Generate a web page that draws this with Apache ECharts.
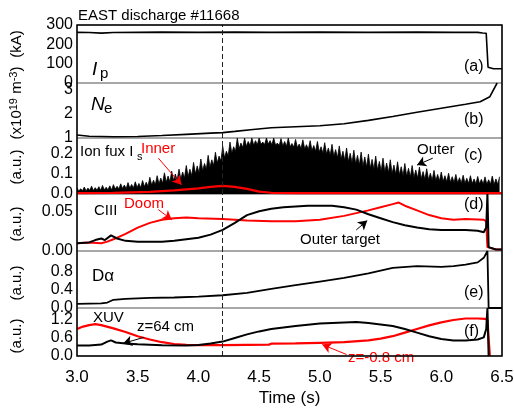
<!DOCTYPE html>
<html><head><meta charset="utf-8">
<script src="https://cdn.jsdelivr.net/npm/echarts@6/dist/echarts.min.js"></script>
<style>html,body{margin:0;padding:0;background:#fff}#c{width:514px;height:410px}</style>
</head><body><div id="c"></div>
<script>
// ---------- data ----------
const xTickLabels = ['3.0', '3.5', '4.0', '4.5', '5.0', '5.5', '6.0', '6.5'];
const yTickLabels = [
  ['0', '100', '200', '300'],
  ['1', '2', '3'],
  ['0.0', '0.1', '0.2'],
  ['0.00', '0.05'],
  ['0.0', '0.4', '0.8'],
  ['0.0', '0.6', '1.2']
];

const ipT = [3.00, 3.10, 3.20, 3.30, 3.50, 3.70, 4.00, 4.30, 4.60, 5.00, 5.40, 5.80, 6.10, 6.30, 6.34, 6.37, 6.385, 6.40, 6.43, 6.50];
const ipV = [262, 261, 258, 261, 262, 263, 262, 263, 262, 263, 262, 263, 262, 262, 259, 257, 82, 77, 74, 74];

const neT = [3.00, 3.10, 3.30, 3.50, 3.70, 3.90, 4.10, 4.20, 4.30, 4.45, 4.60, 4.80, 5.00, 5.20, 5.40, 5.60, 5.80, 6.00, 6.20, 6.32, 6.40, 6.46];
const neV = [1.12, 1.07, 1.05, 1.06, 1.10, 1.15, 1.20, 1.22, 1.27, 1.35, 1.42, 1.46, 1.50, 1.58, 1.72, 1.88, 2.05, 2.22, 2.38, 2.48, 2.69, 3.25];

// ion flux at the outer target: heights of the spikes and of the dense band between them
const outerPkT = [
  3.00,3.03,3.06,3.09,3.12,3.15,3.18,3.21,3.24,3.27,
  3.30,3.33,3.36,3.39,3.42,3.45,3.48,3.51,3.54,3.57,
  3.60,3.63,3.66,3.69,3.72,3.75,3.78,3.81,3.84,3.87,
  3.90,3.93,3.96,3.99,4.02,4.05,4.08,4.11,4.14,4.17,
  4.20,4.23,4.26,4.29,4.32,4.35,4.38,4.41,4.44,4.47,
  4.50,4.53,4.56,4.59,4.62,4.65,4.68,4.71,4.74,4.77,
  4.80,4.83,4.86,4.89,4.92,4.95,4.98,5.01,5.04,5.07,
  5.10,5.13,5.16,5.19,5.22,5.25,5.28,5.31,5.34,5.37,
  5.40,5.43,5.46,5.49,5.52,5.55,5.58,5.61,5.64,5.67,
  5.70,5.73,5.76,5.79,5.82,5.85,5.88,5.91,5.94,5.97,
  6.00,6.03,6.06,6.09,6.12,6.15,6.18,6.21,6.24,6.27,
  6.30,6.33,6.36,6.39,6.42,6.45,6.48];
const outerPk = [
  0.030,0.026,0.034,0.029,0.038,0.031,0.036,0.042,0.033,0.040,
  0.046,0.038,0.050,0.044,0.056,0.047,0.060,0.052,0.066,0.058,
  0.082,0.068,0.090,0.078,0.104,0.088,0.112,0.098,0.122,0.108,
  0.140,0.122,0.155,0.138,0.172,0.150,0.190,0.168,0.205,0.186,
  0.235,0.210,0.255,0.232,0.275,0.250,0.275,0.258,0.275,0.262,
  0.275,0.255,0.275,0.262,0.275,0.250,0.272,0.258,0.275,0.248,
  0.268,0.245,0.266,0.242,0.262,0.238,0.258,0.232,0.252,0.226,
  0.244,0.218,0.236,0.210,0.226,0.200,0.215,0.190,0.206,0.182,
  0.196,0.170,0.186,0.160,0.176,0.152,0.168,0.142,0.158,0.134,
  0.150,0.126,0.140,0.118,0.132,0.110,0.124,0.102,0.116,0.096,
  0.108,0.090,0.102,0.085,0.096,0.080,0.092,0.077,0.090,0.074,
  0.086,0.072,0.084,0.070,0.088,0.074,0.085];
const outerCoT = [
  3.015,3.045,3.075,3.105,3.135,3.165,3.195,3.225,3.255,3.285,
  3.315,3.345,3.375,3.405,3.435,3.465,3.495,3.525,3.555,3.585,
  3.615,3.645,3.675,3.705,3.735,3.765,3.795,3.825,3.855,3.885,
  3.915,3.945,3.975,4.005,4.035,4.065,4.095,4.125,4.155,4.185,
  4.215,4.245,4.275,4.305,4.335,4.365,4.395,4.425,4.455,4.485,
  4.515,4.545,4.575,4.605,4.635,4.665,4.695,4.725,4.755,4.785,
  4.815,4.845,4.875,4.905,4.935,4.965,4.995,5.025,5.055,5.085,
  5.115,5.145,5.175,5.205,5.235,5.265,5.295,5.325,5.355,5.385,
  5.415,5.445,5.475,5.505,5.535,5.565,5.595,5.625,5.655,5.685,
  5.715,5.745,5.775,5.805,5.835,5.865,5.895,5.925,5.955,5.985,
  6.015,6.045,6.075,6.105,6.135,6.165,6.195,6.225,6.255,6.285,
  6.315,6.345,6.375,6.405,6.435,6.465];
const outerCo = [
  0.014,0.016,0.015,0.018,0.017,0.019,0.018,0.020,0.021,0.020,
  0.024,0.025,0.027,0.026,0.029,0.030,0.032,0.031,0.036,0.038,
  0.044,0.046,0.050,0.053,0.058,0.060,0.066,0.068,0.074,0.078,
  0.086,0.090,0.098,0.104,0.114,0.122,0.132,0.140,0.152,0.162,
  0.178,0.188,0.200,0.210,0.222,0.228,0.234,0.238,0.240,0.242,
  0.244,0.243,0.245,0.242,0.240,0.238,0.236,0.234,0.232,0.230,
  0.228,0.224,0.222,0.218,0.214,0.210,0.206,0.200,0.196,0.190,
  0.185,0.178,0.172,0.166,0.160,0.154,0.148,0.142,0.137,0.132,
  0.127,0.122,0.118,0.113,0.109,0.105,0.101,0.097,0.094,0.090,
  0.087,0.084,0.081,0.078,0.075,0.072,0.070,0.068,0.066,0.064,
  0.062,0.060,0.058,0.057,0.055,0.054,0.053,0.052,0.051,0.050,
  0.050,0.049,0.048,0.048,0.047,0.047];

const innerT = [3.00, 3.30, 3.60, 3.80, 4.00, 4.10, 4.20, 4.30, 4.40, 4.50, 4.60, 4.80, 5.20, 5.80, 6.50];
const innerV = [0.004, 0.006, 0.010, 0.018, 0.028, 0.035, 0.040, 0.035, 0.025, 0.012, 0.006, 0.004, 0.004, 0.004, 0.004];

const ciiiOutT = [3.00,3.10,3.15,3.20,3.23,3.28,3.33,3.40,3.50,3.60,3.70,3.80,3.90,4.00,4.10,4.20,4.30,4.40,4.50,4.60,4.70,4.80,4.90,5.00,5.10,5.20,5.30,5.40,5.50,5.60,5.70,5.80,5.90,6.00,6.10,6.20,6.30,6.35,6.37,6.38,6.39,6.45,6.50];
const ciiiOutV = [0.010,0.011,0.014,0.016,0.014,0.020,0.016,0.013,0.012,0.012,0.012,0.013,0.015,0.017,0.021,0.027,0.036,0.046,0.051,0.054,0.056,0.057,0.058,0.058,0.058,0.056,0.053,0.047,0.042,0.037,0.033,0.030,0.028,0.027,0.027,0.027,0.026,0.024,0.030,0.073,0.005,0.002,0.002];
const doomT = [3.00,3.10,3.20,3.25,3.30,3.40,3.50,3.60,3.70,3.80,3.90,4.00,4.20,4.40,4.60,4.80,5.00,5.20,5.40,5.50,5.60,5.65,5.70,5.80,5.90,6.00,6.10,6.20,6.35,6.37,6.38,6.45,6.50];
const doomV = [0.010,0.011,0.010,0.012,0.015,0.022,0.030,0.036,0.040,0.042,0.043,0.042,0.041,0.039,0.038,0.038,0.040,0.045,0.052,0.056,0.060,0.062,0.058,0.052,0.046,0.042,0.040,0.041,0.040,0.038,0.005,0.002,0.002];

const daT = [3.00,3.20,3.25,3.30,3.40,3.60,3.80,4.00,4.20,4.40,4.60,4.80,5.00,5.20,5.40,5.60,5.80,6.00,6.10,6.20,6.30,6.35,6.38,6.39,6.50];
const daV = [0.09,0.10,0.12,0.18,0.20,0.22,0.23,0.25,0.28,0.33,0.42,0.50,0.58,0.66,0.76,0.88,0.92,0.90,0.92,0.95,1.00,1.10,1.25,0.00,0.00];

const xuvInT = [3.00,3.05,3.10,3.15,3.20,3.30,3.40,3.50,3.60,3.70,3.80,3.90,4.00,4.20,4.40,4.58,4.60,4.80,5.00,5.20,5.40,5.50,5.60,5.70,5.80,5.90,6.00,6.10,6.20,6.30,6.36,6.38,6.39,6.40];
const xuvInV = [0.90,0.98,1.03,1.06,1.03,0.92,0.80,0.66,0.55,0.46,0.40,0.37,0.36,0.36,0.37,0.38,0.41,0.42,0.44,0.46,0.52,0.58,0.66,0.78,0.90,1.02,1.12,1.20,1.25,1.25,1.24,1.20,0.60,0.00];
const xuvOutT = [3.00,3.10,3.20,3.25,3.28,3.32,3.40,3.50,3.70,3.90,4.00,4.10,4.20,4.30,4.40,4.50,4.60,4.80,5.00,5.20,5.30,5.40,5.50,5.60,5.70,5.80,5.90,6.00,6.10,6.20,6.30,6.35,6.37,6.38,6.39];
const xuvOutV = [0.35,0.35,0.38,0.48,0.52,0.45,0.42,0.39,0.36,0.35,0.37,0.42,0.48,0.60,0.72,0.82,0.90,1.00,1.08,1.12,1.13,1.10,1.05,1.00,0.90,0.78,0.66,0.57,0.52,0.52,0.55,0.62,0.90,1.60,0.00];

const dischargeT = 4.2;

// ---------- helpers ----------
const pair = (t, v) => t.map((x, i) => [x, v[i]]);
const outerData = pair(outerPkT, outerPk).concat(pair(outerCoT, outerCo)).sort((a, b) => a[0] - b[0]);

const FONT = 'Liberation Sans, Arial, sans-serif';
const panels = [
  {top: 25, h: 58, min: 0, max: 300, iv: 100},
  {top: 83, h: 55, min: 1, max: 3.25, iv: 1},
  {top: 138, h: 56, min: 0, max: 0.275, iv: 0.1},
  {top: 194, h: 57, min: 0, max: 0.073, iv: 0.05},
  {top: 251, h: 57, min: 0, max: 1.25, iv: 0.4},
  {top: 308, h: 48, min: 0, max: 1.6, iv: 0.6}
];
const L = 77, R = 12;
const pickLabel = (list, v) => {
  const hit = list.find(s => Math.abs(parseFloat(s) - v) < 1e-6);
  return hit === undefined ? '' : hit;
};

const grids = panels.map(p => ({left: L, right: R, top: p.top, height: p.h, show: true, borderColor: '#8a8a8a', borderWidth: 1,
  backgroundColor: 'transparent', containLabel: false, outerBoundsMode: 'none'}));
const xAxes = panels.map((p, i) => ({
  type: 'value', gridIndex: i, min: 3, max: 6.5, interval: 0.5,
  axisLine: {show: false}, axisTick: {show: false}, splitLine: {show: false},
  axisLabel: {show: i === 5, color: '#000', fontSize: 17, fontFamily: FONT, margin: 13, formatter: v => pickLabel(xTickLabels, v)},
  name: i === 5 ? 'Time (s)' : '', nameLocation: 'middle', nameGap: 34,
  nameTextStyle: {color: '#000', fontSize: 17, fontFamily: FONT}
}));
const yAxes = panels.map((p, i) => ({
  type: 'value', gridIndex: i, min: p.min, max: p.max, interval: p.iv,
  axisLine: {show: false}, axisTick: {show: false}, splitLine: {show: false},
  axisLabel: {color: '#000', fontSize: 16, fontFamily: FONT, margin: 4, showMaxLabel: true, showMinLabel: true, hideOverlap: false,
    formatter: v => pickLabel(yTickLabels[i], v)}
}));

const dashML = {silent: true, symbol: ['none', 'none'], animation: false, label: {show: false},
  lineStyle: {color: '#222', width: 1, type: [5, 3]}, data: [{xAxis: dischargeT}]};
const arrowML = (segs) => ({silent: true, symbol: ['none', 'arrow'], symbolSize: [8, 9], animation: false, label: {show: false},
  data: segs.map(s => [{coord: s[0], lineStyle: {color: s[2], width: 1, type: 'solid'}, itemStyle: {color: s[2]}}, {coord: s[1], itemStyle: {color: s[2]}}])});

const line = (gi, data, color, w, extra) => Object.assign({
  type: 'line', xAxisIndex: gi, yAxisIndex: gi, data, showSymbol: false, symbol: 'none',
  lineStyle: {color, width: w}, itemStyle: {color}, animation: false, silent: true, clip: true
}, extra || {});

const series = [
  line(0, pair(ipT, ipV), '#000', 1.6, {markLine: dashML}),
  line(1, pair(neT, neV), '#000', 1.6, {markLine: dashML}),
  line(2, outerData, '#000', 0.8, {areaStyle: {color: '#000', opacity: 1, origin: 'start'}, markLine: dashML}),
  line(2, pair(innerT, innerV), '#f00', 2.2, {markLine: arrowML([
    [[3.67, 0.176], [3.86, 0.045], '#f00'],
    [[5.93, 0.176], [5.80, 0.142], '#000']])}),
  line(3, pair(ciiiOutT, ciiiOutV), '#000', 2, {markLine: dashML, z: 3}),
  line(3, pair(doomT, doomV), '#f00', 2, {z: 2, markLine: arrowML([
    [[3.67, 0.053], [3.78, 0.040], '#f00'],
    [[5.30, 0.027], [5.39, 0.039], '#000']])}),
  line(4, pair(daT, daV), '#000', 1.8, {markLine: dashML}),
  line(5, pair(xuvInT, xuvInV), '#f00', 2.2, {markLine: arrowML([
    [[3.55, 0.62], [3.38, 0.42], '#000'],
    [[5.22, 0.05], [5.02, 0.38], '#f00']])}),
  line(5, pair(xuvOutT, xuvOutV), '#000', 2, {markLine: dashML})
];

const txt = (x, y, text, opt) => Object.assign({type: 'text', x, y, z: 50, silent: true,
  style: Object.assign({text, fill: '#000', font: '15px ' + FONT, textVerticalAlign: 'middle'}, (opt || {}).style || {})},
  (opt || {}).el || {});
const rot = (x, y, text, rich) => ({type: 'text', x, y, rotation: Math.PI / 2, z: 50, silent: true,
  style: Object.assign({text, fill: '#000', font: '15px ' + FONT, textAlign: 'center', textVerticalAlign: 'middle'}, rich ? {rich} : {})});

const graphic = [
  {type: 'rect', z: 60, silent: true, shape: {x: 77, y: 25, width: 425, height: 331}, style: {fill: 'none', stroke: '#000', lineWidth: 1.5}},
  txt(78, 16, 'EAST discharge #11668', {style: {font: '15px ' + FONT}}),
  txt(92, 70, 'I', {style: {font: 'italic 19px ' + FONT}}),
  txt(100, 74, 'p', {style: {font: '15px ' + FONT}}),
  txt(91, 105, 'N', {style: {font: 'italic 19px ' + FONT}}),
  txt(104, 109, 'e', {style: {font: '15px ' + FONT}}),
  txt(80, 152, 'Ion fux I'),
  txt(137, 157, 's', {style: {font: '11px ' + FONT}}),
  txt(141, 149, 'Inner', {style: {fill: '#f00'}}),
  txt(417, 150, 'Outer'),
  txt(94, 211, 'CIII'),
  txt(124, 204, 'Doom', {style: {fill: '#f00'}}),
  txt(300, 240, 'Outer target'),
  txt(92, 276, 'D\u03b1', {style: {font: '17px ' + FONT}}),
  txt(93, 318, 'XUV'),
  txt(137, 327, 'z=64 cm'),
  txt(348, 358, 'z=-0.8 cm', {style: {fill: '#f00'}}),
  txt(464, 67, '(a)', {style: {font: '16px ' + FONT}}),
  txt(464, 120, '(b)', {style: {font: '16px ' + FONT}}),
  txt(464, 156, '(c)', {style: {font: '16px ' + FONT}}),
  txt(464, 205, '(d)', {style: {font: '16px ' + FONT}}),
  txt(464, 293, '(e)', {style: {font: '16px ' + FONT}}),
  txt(464, 332, '(f)', {style: {font: '16px ' + FONT}}),
  rot(17, 44, '(kA)'),
  rot(17, 103, '(x10{sup|19} m{sup|-3})', {sup: {font: '11px ' + FONT, verticalAlign: 'top', lineHeight: 18}}),
  rot(17, 167, '(a.u.)'),
  rot(17, 224, '(a.u.)'),
  rot(17, 283, '(a.u.)'),
  rot(17, 336, '(a.u.)')
];

const chart = echarts.init(document.getElementById('c'), null, {renderer: 'canvas'});
chart.setOption({animation: false, backgroundColor: '#fff', grid: grids, xAxis: xAxes, yAxis: yAxes, series, graphic});
</script></body></html>
